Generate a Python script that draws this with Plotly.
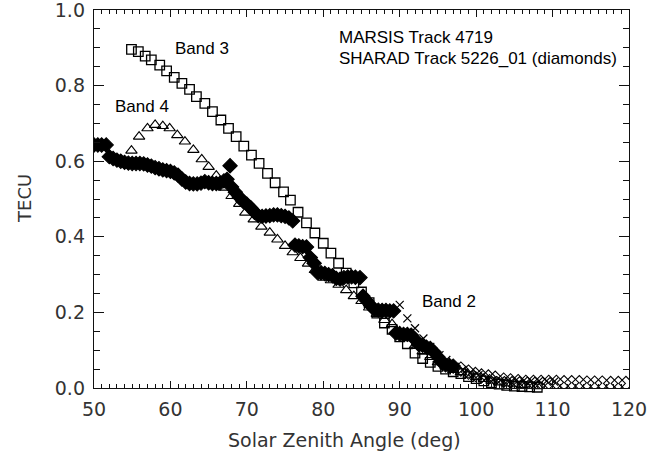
import plotly.graph_objects as go

# Band 3 (MARSIS, squares)
band3_x = [54.9, 55.8, 56.7, 57.5, 58.6, 59.5, 60.5, 61.5, 62.5, 63.4, 64.5, 65.5, 66.6, 67.6,
           68.6, 69.6, 70.6, 71.6, 72.7, 73.7, 74.8, 75.7, 76.7, 77.8, 78.9, 80.0, 81.0, 82.0,
           83.0, 84.0, 85.0, 86.0, 87.0, 88.0, 89.0, 90.0, 91.0, 92.0, 93.0, 94.0, 95.0, 96.0,
           97.0, 98.0, 99.0, 100.0, 101.0, 102.0, 103.0, 104.0, 105.0, 106.0, 107.0, 108.0]
band3_y = [0.896, 0.890, 0.878, 0.868, 0.854, 0.839, 0.822, 0.806, 0.790, 0.771, 0.753, 0.731,
           0.709, 0.687, 0.665, 0.640, 0.616, 0.594, 0.568, 0.543, 0.519, 0.497, 0.465, 0.437,
           0.410, 0.383, 0.357, 0.330, 0.304, 0.278, 0.254, 0.226, 0.198, 0.172, 0.155, 0.135,
           0.117, 0.092, 0.078, 0.068, 0.057, 0.050, 0.043, 0.038, 0.030, 0.025, 0.019, 0.014,
           0.010, 0.007, 0.005, 0.004, 0.003, 0.002]

# Band 4 (MARSIS, triangles)
band4_x = [54.9, 55.9, 57.0, 58.0, 59.0, 59.9, 60.9, 61.9, 63.0, 64.1, 65.0, 66.0, 67.0, 68.0,
           69.0, 69.8, 70.9, 71.9, 73.0, 74.0, 75.0, 76.0, 77.0, 78.0, 78.9, 80.0, 81.0, 82.0,
           83.0, 84.0, 85.0, 86.0, 87.0, 88.0, 89.0, 90.0, 91.0, 92.0, 93.0, 94.0, 95.0, 96.0,
           97.0, 98.0, 99.0, 100.0, 101.0, 102.0, 103.0, 104.0, 105.0, 106.0, 107.0, 108.0]
band4_y = [0.628, 0.665, 0.687, 0.696, 0.693, 0.687, 0.669, 0.652, 0.630, 0.605, 0.585, 0.562,
           0.530, 0.508, 0.487, 0.464, 0.446, 0.427, 0.411, 0.393, 0.376, 0.359, 0.344, 0.329,
           0.312, 0.292, 0.285, 0.273, 0.259, 0.243, 0.230, 0.213, 0.196, 0.180, 0.169, 0.150,
           0.132, 0.113, 0.097, 0.082, 0.068, 0.057, 0.048, 0.042, 0.035, 0.029, 0.024, 0.019,
           0.015, 0.012, 0.010, 0.008, 0.006, 0.005]

# Band 2 (MARSIS, crosses)
band2_x = [90.0, 91.0, 92.0, 93.1, 94.0, 95.2, 96.1, 97.2, 98.2, 99.2, 100.3, 101.3, 102.2,
           103.2, 104.2, 105.2, 106.2, 107.2, 108.2, 109.2, 110.2]
band2_y = [0.220, 0.184, 0.158, 0.131, 0.109, 0.087, 0.074, 0.056, 0.048, 0.039, 0.034, 0.026,
           0.021, 0.020, 0.020, 0.020, 0.019, 0.019, 0.018, 0.018, 0.017]

# SHARAD Track 5226_01 (diamonds)
sharad_x = [50.0, 50.5, 51.0, 51.6, 52.0, 52.5, 53.0, 53.5, 54.0, 54.5, 55.0, 55.5, 56.0, 56.5,
            57.0, 57.5, 58.0, 58.5, 59.0, 59.5, 60.0, 60.5, 61.0, 61.5, 62.0, 62.5, 63.0, 63.5,
            64.0, 64.5, 65.0, 65.5, 66.0, 66.5, 67.0, 67.4, 67.8, 68.0, 68.5, 69.0, 69.5, 70.0,
            70.5, 71.0, 71.5, 72.0, 72.5, 73.0, 73.5, 74.0, 74.5, 75.0, 75.5, 76.0, 76.3, 76.8,
            77.3, 77.8, 78.3, 78.8, 79.2, 79.7, 80.2, 80.7, 81.2, 81.7, 82.2, 82.7, 83.2, 83.7,
            84.2, 84.8, 85.2, 85.7, 86.2, 86.7, 87.2, 87.7, 88.2, 88.7, 89.2, 89.5, 90.0, 90.5,
            91.0, 91.5, 92.0, 92.5, 93.0, 93.5, 94.0, 94.5, 95.0, 95.5, 96.0, 96.5, 97.0,
            98.0, 99.0, 99.9, 100.7, 101.6, 102.5, 103.6, 104.5, 105.5, 106.5, 107.5, 108.5,
            109.5, 110.5, 111.5, 112.5, 113.5, 114.5, 115.5, 116.5, 117.6, 118.6, 119.6]
sharad_y = [0.643, 0.643, 0.643, 0.643, 0.612, 0.607, 0.603, 0.600, 0.597, 0.595, 0.594, 0.594,
            0.594, 0.593, 0.590, 0.587, 0.583, 0.580, 0.577, 0.575, 0.573, 0.569, 0.563, 0.553,
            0.545, 0.541, 0.540, 0.540, 0.542, 0.546, 0.543, 0.541, 0.541, 0.542, 0.548, 0.552,
            0.588, 0.532, 0.518, 0.505, 0.494, 0.486, 0.477, 0.465, 0.456, 0.454, 0.455, 0.456,
            0.458, 0.458, 0.456, 0.454, 0.450, 0.442, 0.378, 0.376, 0.374, 0.373, 0.345, 0.330,
            0.306, 0.305, 0.303, 0.300, 0.297, 0.290, 0.288, 0.292, 0.294, 0.294, 0.293, 0.292,
            0.243, 0.230, 0.218, 0.208, 0.206, 0.205, 0.205, 0.204, 0.204, 0.145, 0.143, 0.142,
            0.142, 0.140, 0.128, 0.115, 0.113, 0.108, 0.105, 0.095, 0.082, 0.068, 0.061, 0.060,
            0.058,
            0.050, 0.042, 0.036, 0.032, 0.029, 0.026, 0.021, 0.019, 0.017, 0.015, 0.015, 0.015,
            0.015, 0.015, 0.014, 0.014, 0.014, 0.013, 0.013, 0.013, 0.012, 0.012, 0.012]
sharad_dense_end = 97.0  # dense sampling (overlapping, solid-looking) up to here

x_range = [50, 120]
y_range = [0.0, 1.0]

fig = go.Figure()
fig.add_trace(go.Scatter(x=band3_x, y=band3_y, mode="markers", name="Band 3", cliponaxis=False,
                         marker=dict(symbol="square-open", size=9.5, color="black",
                                     line=dict(width=1.3, color="black"))))
fig.add_trace(go.Scatter(x=band4_x, y=band4_y, mode="markers", name="Band 4", cliponaxis=False,
                         marker=dict(symbol="triangle-up-open", size=10, color="black",
                                     line=dict(width=1.1, color="black"))))
fig.add_trace(go.Scatter(x=band2_x, y=band2_y, mode="markers", name="Band 2", cliponaxis=False,
                         marker=dict(symbol="x-thin-open", size=8, color="black",
                                     line=dict(width=1.2, color="black"))))
sym = ["diamond" if v <= sharad_dense_end else "diamond-open" for v in sharad_x]
fig.add_trace(go.Scatter(x=sharad_x, y=sharad_y, mode="markers", name="SHARAD",
                         marker=dict(symbol=sym, size=11, color="black",
                                     line=dict(width=1.1, color="black"))))

axis_font = dict(family="DejaVu Sans", size=19, color="#333")
fig.update_xaxes(range=x_range, tickmode="linear", tick0=50, dtick=10, ticks="inside",
                 ticklen=7, tickwidth=1.2, tickcolor="#111", showline=True, linecolor="#111",
                 linewidth=1.4, mirror="allticks", showgrid=False, zeroline=False,
                 tickfont=axis_font, automargin=False, ticklabelstandoff=4,
                 ticklabeloverflow="allow",
                 minor=dict(tick0=50, dtick=1, ticks="inside", ticklen=4, tickwidth=1.1,
                            tickcolor="#111", showgrid=False))
fig.update_yaxes(range=y_range, tickmode="linear", tick0=0, dtick=0.2, tickformat=".1f",
                 ticks="inside", ticklen=10, tickwidth=1.2, tickcolor="#111", showline=True,
                 linecolor="#111", linewidth=1.4, mirror="allticks", showgrid=False,
                 zeroline=False, tickfont=axis_font, ticklabelstandoff=4, automargin=False,
                 ticklabeloverflow="allow",
                 minor=dict(tick0=0, dtick=0.05, ticks="inside", ticklen=6, tickwidth=1.1,
                            tickcolor="#111", showgrid=False))

ann_font = dict(family="Liberation Sans, Arial, sans-serif", size=17, color="black")
annotations = [
    dict(x=60.35, y=0.897, text="Band 3", xanchor="left", yanchor="middle"),
    dict(x=52.5, y=0.744, text="Band 4", xanchor="left", yanchor="middle"),
    dict(x=92.7, y=0.228, text="Band 2", xanchor="left", yanchor="middle"),
    dict(x=81.8, y=0.926, text="MARSIS Track 4719", xanchor="left", yanchor="middle"),
    dict(x=81.8, y=0.873, text="SHARAD Track 5226_01 (diamonds)", xanchor="left", yanchor="middle"),
]
for a in annotations:
    a.update(xref="x", yref="y", showarrow=False, font=ann_font)
annotations.append(dict(xref="paper", yref="paper", x=-0.131, y=0.5026, text="TECU",
                        textangle=-90, showarrow=False, xanchor="center", yanchor="middle",
                        font=dict(family="DejaVu Sans", size=18, color="#333")))
annotations.append(dict(xref="paper", yref="paper", x=0.469, y=-0.138,
                        text="Solar Zenith Angle (deg)", showarrow=False,
                        xanchor="center", yanchor="middle",
                        font=dict(family="DejaVu Sans", size=19, color="#333")))

fig.update_layout(width=649, height=454,
                  margin=dict(l=94, r=20, t=10, b=66, autoexpand=False),
                  paper_bgcolor="white", plot_bgcolor="white", showlegend=False,
                  annotations=annotations)
fig.write_html("out.html", config={"displayModeBar": False},
               post_script="document.body.style.margin='0';document.body.style.overflow='hidden';")
